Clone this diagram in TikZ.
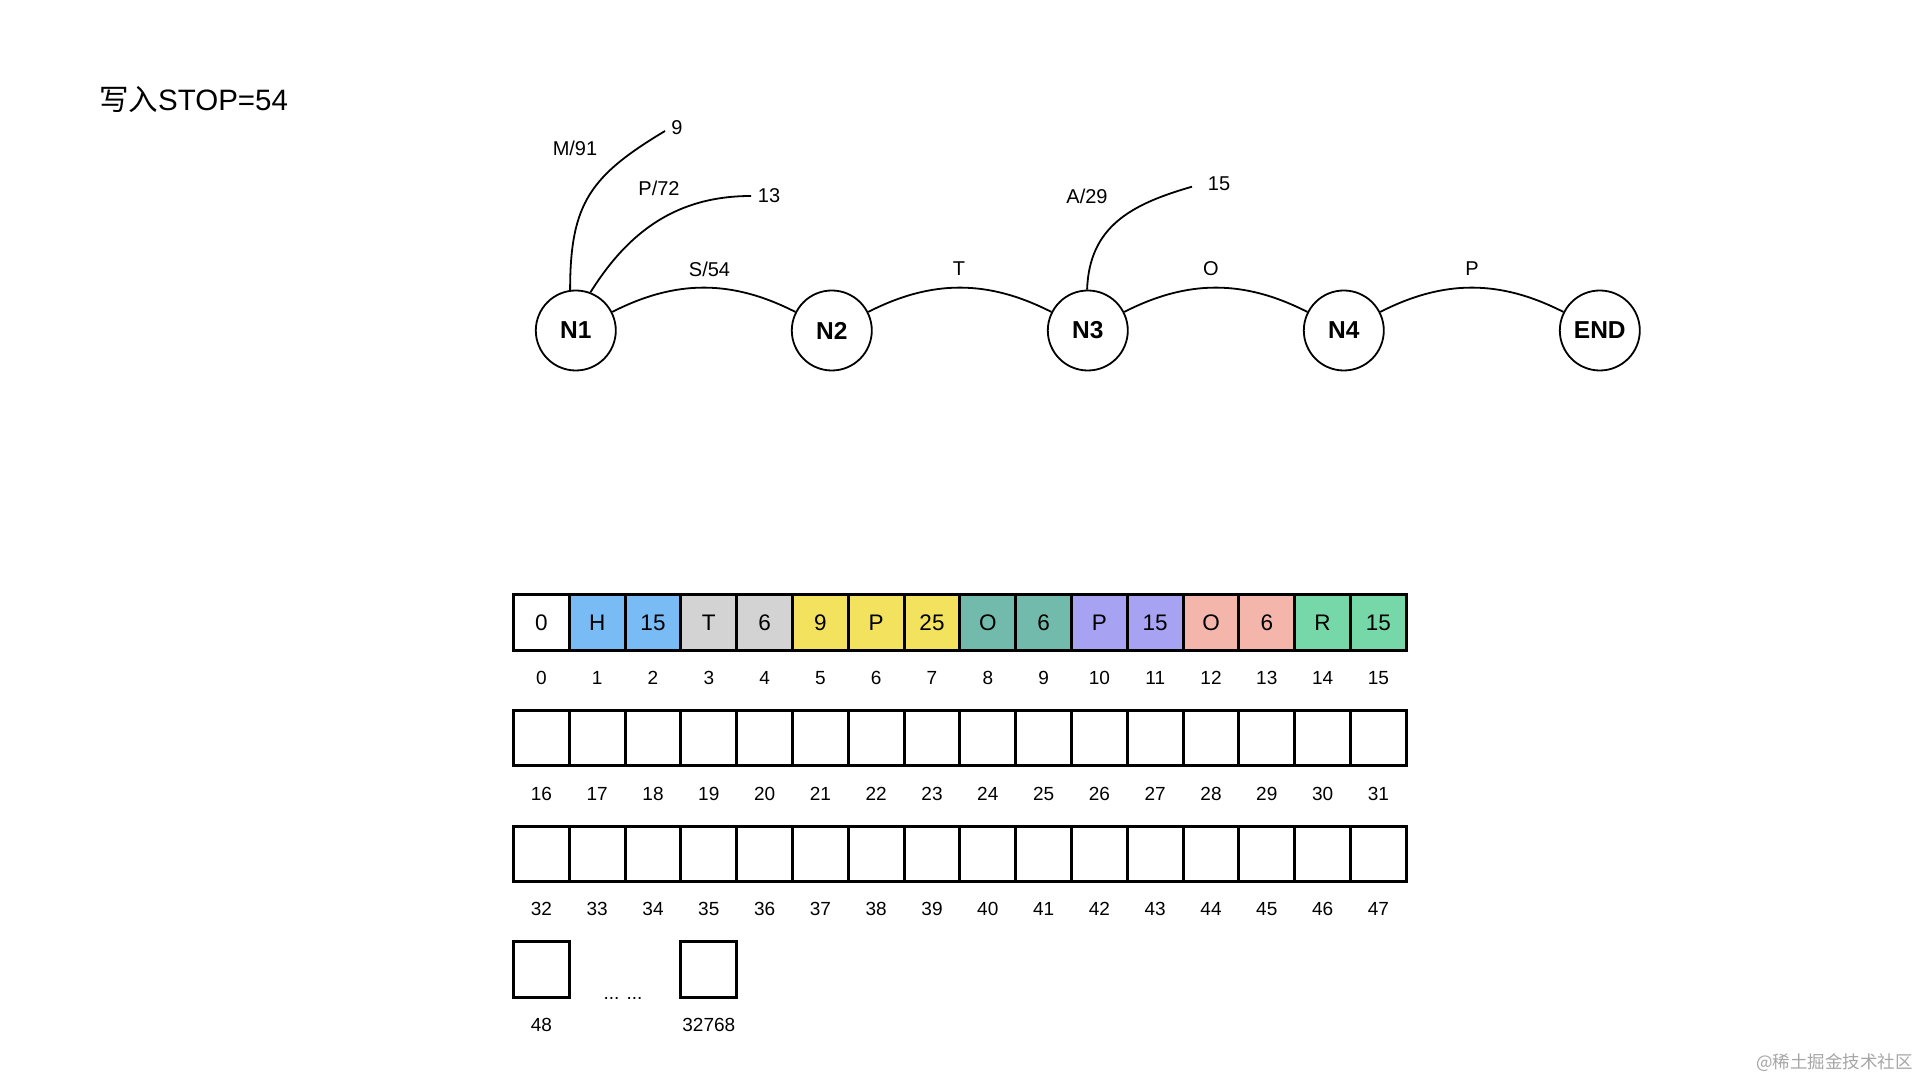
\documentclass[tikz,border=0pt]{standalone}
\usepackage{fontspec}
\setmainfont{Liberation Sans}
\newfontfamily\cjk{Noto Sans CJK SC}
\definecolor{cblue}{RGB}{120,187,245}
\definecolor{cgray}{RGB}{211,211,211}
\definecolor{cyellow}{RGB}{242,226,94}
\definecolor{cteal}{RGB}{114,186,171}
\definecolor{cpurple}{RGB}{168,162,242}
\definecolor{csalmon}{RGB}{244,182,170}
\definecolor{cgreen}{RGB}{118,216,168}
\begin{document}
\begin{tikzpicture}[x=1pt,y=1pt,
  state/.style={circle,draw,line width=1.8pt,minimum size=80pt,inner sep=0pt,font=\fontsize{24.5}{28}\selectfont\bfseries},
  link/.style={line width=1.8pt},
  elabel/.style={font=\fontsize{20}{24}\selectfont,inner sep=0pt},
  cell/.style={draw,line width=3pt,minimum width=55.8pt,minimum height=55.5pt,inner sep=0pt,font=\fontsize{22.5}{26}\selectfont},
  idx/.style={font=\fontsize{19}{22}\selectfont,inner sep=0pt}]
\useasboundingbox (0,0) rectangle (1920,1080);
\fill[white] (0,0) rectangle (1920,1080);

% title
\node[anchor=west,inner sep=0pt,font=\fontsize{29.5}{33}\selectfont] (title) at (99,980) {{\cjk 写入}STOP=54};

% states
\foreach \n [count=\k from 0] in {N1,N2,N3,N4,END}
  \node[state] (\n) at (575.8+256*\k, 749.5) {\n};

\draw[link] (N1) to[out=27,in=153] (N2);
\draw[link] (N2) to[out=27,in=153] (N3);
\draw[link] (N3) to[out=27,in=153] (N4);
\draw[link] (N4) to[out=27,in=153] (END);

\node[elabel] (lS) at (709.5,811) {S/54};
\node[elabel] (lT) at (959,811) {T};
\node[elabel] (lO) at (1211,811) {O};
\node[elabel] (lP) at (1472,811) {P};

% branches
\coordinate (e9) at (665,949);
\coordinate (e13) at (751,884);
\coordinate (e15) at (1192,893.3);
\draw[link] (N1.98) to[out=90,in=211,looseness=1.2] (e9);
\draw[link] (N1.69) to[out=58,in=180] (e13);
\draw[link] (N3.91) to[out=88,in=196,looseness=1.1] (e15);

\node[elabel] (l9) at (677,952) {9};
\node[elabel] (l13) at (769,884) {13};
\node[elabel] (l15) at (1219,896) {15};
\node[elabel] (lM) at (575,932) {M/91};
\node[elabel] (lP72) at (659,892) {P/72};
\node[elabel] (lA) at (1087,883.3) {A/29};

% array row 0
\foreach \t/\c [count=\i from 0] in {0/white,H/cblue,15/cblue,T/cgray,6/cgray,9/cyellow,P/cyellow,25/cyellow,O/cteal,6/cteal,P/cpurple,15/cpurple,O/csalmon,6/csalmon,R/cgreen,15/cgreen} {
  \node[cell,fill=\c] (c\i) at (541.4+55.8*\i, 457.25) {\t};
  \node[idx] (i\i) at (541.4+55.8*\i, 402) {\i};
}
% rows 1,2
\foreach \i in {16,...,47} {
  \pgfmathtruncatemacro{\col}{mod(\i,16)}
  \pgfmathtruncatemacro{\row}{int(\i/16)}
  \node[cell] (c\i) at (541.4+55.8*\col, 457.25-115.5*\row) {};
  \node[idx] (i\i) at (541.4+55.8*\col, 402-115.5*\row) {\i};
}
% row 3
\node[cell] (c48) at (541.4, 110.75) {};
\node[idx] (i48) at (541.4, 55.5) {48};
\node[cell] (c32768) at (708.8, 110.75) {};
\node[idx] (i32768) at (708.8, 55.5) {32768};
\node[idx,anchor=base] (dots) at (623, 81) {... ...};

% watermark
\node[anchor=east,inner sep=0pt,text=black!35,font=\cjk\fontsize{17.5}{20}\selectfont] (wm) at (1913,17) {@稀土掘金技术社区};
\end{tikzpicture}
\end{document}
